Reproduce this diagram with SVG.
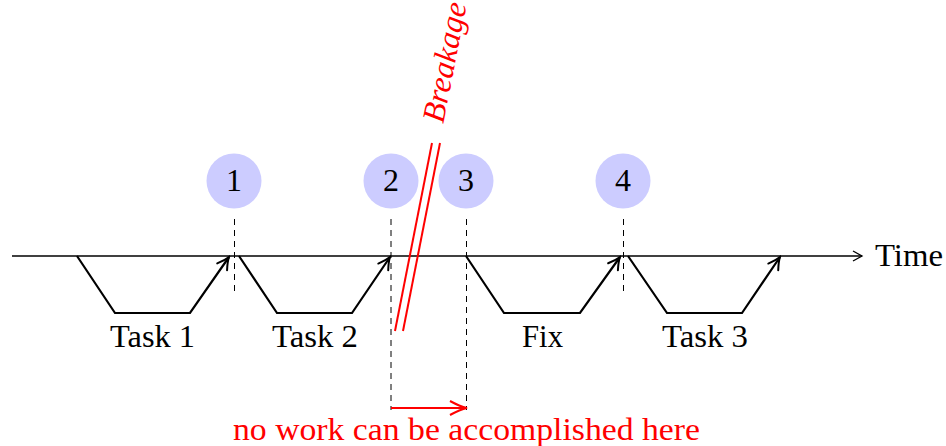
<svg xmlns="http://www.w3.org/2000/svg" width="946" height="446" viewBox="0 0 946 446">
  <style>
    .lbl { font-family: "Liberation Serif", "Times New Roman", serif; font-size: 32px; fill: #000; }
    .red { fill: #ff0000; }
    .num { font-family: "Liberation Serif", "Times New Roman", serif; font-size: 32px; fill: #000; text-anchor: middle; }
    .dot { fill: #ccccff; stroke: none; }
    .axis { stroke: #000; stroke-width: 1.3; fill: none; }
    .task { stroke: #000; stroke-width: 2.2; fill: none; stroke-linejoin: miter; }
    .guide { stroke: #000; stroke-width: 1; stroke-dasharray: 6 5; fill: none; }
    .brk { stroke: #ff0000; stroke-width: 2; fill: none; }
  </style>
  <defs>
    <marker id="headBlack" markerUnits="userSpaceOnUse" viewBox="-14 -8 16 16" markerWidth="16" markerHeight="16" refX="0" refY="0" orient="auto">
      <path d="M -12,-6 Q -5,-1.5 0,0 Q -5,1.5 -12,6" fill="none" stroke="#000" stroke-width="2" stroke-linecap="round"/>
    </marker>
    <marker id="headAxis" markerUnits="userSpaceOnUse" viewBox="-12 -7 14 14" markerWidth="14" markerHeight="14" refX="0" refY="0" orient="auto">
      <path d="M -9,-5 L 0,0 L -9,5" fill="none" stroke="#000" stroke-width="1.3"/>
    </marker>
    <marker id="headRed" markerUnits="userSpaceOnUse" viewBox="-20 -9 22 18" markerWidth="22" markerHeight="18" refX="0" refY="0" orient="auto">
      <path d="M -17,-7 Q -7,-1.5 0,0 Q -7,1.5 -17,7" fill="none" stroke="#ff0000" stroke-width="2"/>
    </marker>
  </defs>

  <!-- time axis -->
  <g id="axis">
    <line class="axis" x1="12" y1="256" x2="862" y2="256" marker-end="url(#headAxis)"/>
    <text class="lbl" x="875" y="266" textLength="68" lengthAdjust="spacingAndGlyphs">Time</text>
  </g>

  <!-- milestones -->
  <g id="m1">
    <circle class="dot" cx="234" cy="181" r="27.5"/>
    <text class="num" x="234" y="191">1</text>
  </g>
  <g id="m2">
    <circle class="dot" cx="391" cy="181" r="27.5"/>
    <text class="num" x="391" y="191">2</text>
  </g>
  <g id="m3">
    <circle class="dot" cx="466" cy="181" r="27.5"/>
    <text class="num" x="466" y="191">3</text>
  </g>
  <g id="m4">
    <circle class="dot" cx="623" cy="181" r="27.5"/>
    <text class="num" x="623" y="191">4</text>
  </g>

  <!-- work spans -->
  <g id="task1">
    <polyline class="task" points="77,256 115,313 190,313 229,257" marker-end="url(#headBlack)"/>
    <text class="lbl" x="110" y="347" textLength="85" lengthAdjust="spacingAndGlyphs">Task 1</text>
  </g>
  <g id="task2">
    <polyline class="task" points="239,256 277,313 352,313 390,257" marker-end="url(#headBlack)"/>
    <text class="lbl" x="272" y="347" textLength="86" lengthAdjust="spacingAndGlyphs">Task 2</text>
  </g>
  <g id="fix">
    <polyline class="task" points="466,256 504,313 580,313 620,257" marker-end="url(#headBlack)"/>
    <text class="lbl" x="522" y="347" textLength="41" lengthAdjust="spacingAndGlyphs">Fix</text>
  </g>
  <g id="task3">
    <polyline class="task" points="628,256 667,313 742,313 780,257" marker-end="url(#headBlack)"/>
    <text class="lbl" x="662" y="347" textLength="86" lengthAdjust="spacingAndGlyphs">Task 3</text>
  </g>

  <!-- guides and annotations -->
  <g id="connectors">
    <line class="guide" x1="234.5" y1="219" x2="234.5" y2="291"/>
    <line class="guide" x1="391" y1="219" x2="391" y2="410"/>
    <line class="guide" x1="466.5" y1="219" x2="466.5" y2="410"/>
    <line class="guide" x1="623.5" y1="219" x2="623.5" y2="291"/>
    <line class="brk" x1="395" y1="331" x2="432" y2="143"/>
    <line class="brk" x1="403" y1="331" x2="440" y2="143"/>
    <line class="brk" x1="391" y1="408" x2="467" y2="408" marker-end="url(#headRed)"/>
  </g>

  <g id="breakage">
    <text class="lbl red" transform="translate(455,64) rotate(-79)" x="0" y="0" text-anchor="middle" font-style="italic" textLength="122" lengthAdjust="spacingAndGlyphs">Breakage</text>
  </g>
  <g id="gap-note">
    <text class="lbl red" x="233" y="440" textLength="467" lengthAdjust="spacingAndGlyphs">no work can be accomplished here</text>
  </g>
</svg>
